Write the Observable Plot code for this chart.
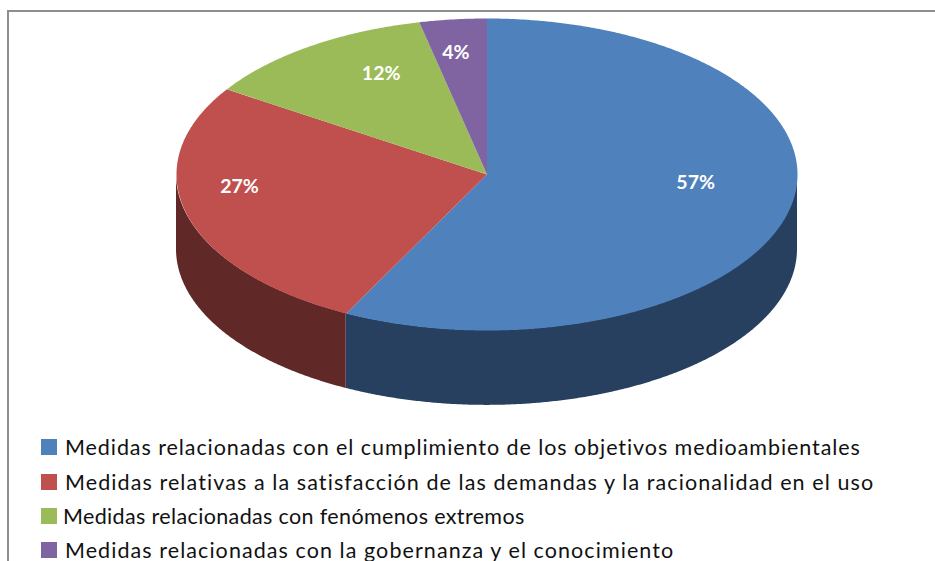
<!DOCTYPE html>
<html lang="es">
<head>
<meta charset="utf-8">
<script src="https://cdn.jsdelivr.net/npm/d3@7"></script>
<script src="https://cdn.jsdelivr.net/npm/@observablehq/plot@0.6"></script>
<style>
html,body{margin:0;padding:0;background:#fff;width:935px;height:561px;overflow:hidden}
#page{position:relative;width:935px;height:561px;overflow:hidden}
#border{position:absolute;left:7px;top:10px;right:-4px;bottom:-4px;border:2px solid #8e8e8e}
#chart{position:absolute;left:0;top:0}
#legend{position:absolute;left:41px;top:430px;font-family:Lato,sans-serif;font-size:21.5px;color:#111}
.row{display:flex;align-items:center;white-space:nowrap}
.sw{width:16px;height:16px;margin-right:8px;flex:none}
.row:nth-child(1){height:34.5px;letter-spacing:.93px}
.row:nth-child(2){height:34.5px;letter-spacing:1.09px}
.row:nth-child(3){height:33px;letter-spacing:.36px}
.row:nth-child(3) .sw{margin-right:6px}
.row:nth-child(4){height:35px;letter-spacing:1.07px}
</style>
</head>
<body>
<div id="page"><div id="border"></div><div id="chart"></div><div id="legend"></div></div>
<script>
const categories = [
  "Medidas relacionadas con el cumplimiento de los objetivos medioambientales",
  "Medidas relativas a la satisfacción de las demandas y la racionalidad en el uso",
  "Medidas relacionadas con fenómenos extremos",
  "Medidas relacionadas con la gobernanza y el conocimiento"
];
const shares = [57.49, 26.71, 12.3, 3.5];
const percentLabels = ["57%", "27%", "12%", "4%"];
const topColors = ["#4f81bd", "#c0504d", "#9bbb59", "#8064a2"];
const sideColors = ["#274060", "#602826", "#4d5d2c", "#403251"];
const labelX = [0.672, -0.797, -0.341, -0.1];
const labelY = [-0.051, -0.077, 0.647, 0.78];
const thickness = 0.48;

const toAngle = p => (p / 100) * 2 * Math.PI;
let acc = 0;
const spans = shares.map((s, i) => {
  const span = {category: categories[i], start: acc, end: acc + s};
  acc += s;
  return span;
});
const topOutline = [];
const wallOutline = [];
for (const sp of spans) {
  topOutline.push({cat: sp.category, x: 0, y: 0});
  for (let p = sp.start; p < sp.end + 0.05; p += 0.1) {
    const q = Math.min(p, sp.end), a = toAngle(q);
    topOutline.push({cat: sp.category, x: Math.sin(a), y: Math.cos(a)});
    if (q >= 25 && q <= 75) {
      wallOutline.push({cat: "side " + sp.category, x: Math.sin(a), y1: Math.cos(a), y2: Math.cos(a) - thickness});
    }
  }
}
const labels = percentLabels.map((t, i) => ({t, x: labelX[i], y: labelY[i]}));

const chart = Plot.plot({
  width: 935,
  height: 430,
  margin: 0,
  style: {background: "transparent"},
  x: {domain: [-1, 1], range: [176, 797], axis: null},
  y: {domain: [-1, 1], range: [330, 18], axis: null},
  color: {
    type: "ordinal",
    domain: [...categories, ...categories.map(c => "side " + c)],
    range: [...topColors, ...sideColors]
  },
  marks: [
    Plot.areaY(wallOutline, {x: "x", y1: "y1", y2: "y2", z: "cat", fill: "cat"}),
    Plot.line(topOutline, {x: "x", y: "y", z: "cat", fill: "cat", stroke: null, curve: "linear-closed"}),
    Plot.text(labels, {x: "x", y: "y", text: "t", fill: "white", fontSize: 19.5, fontWeight: 700, fontFamily: "Lato, sans-serif"})
  ]
});
document.getElementById("chart").append(chart);

const legend = d3.select("#legend");
const rows = legend.selectAll(".row").data(categories).join("div").attr("class", "row");
rows.append("div").attr("class", "sw").style("background", (d, i) => topColors[i]);
rows.append("span").text(d => d);
</script>
</body>
</html>
